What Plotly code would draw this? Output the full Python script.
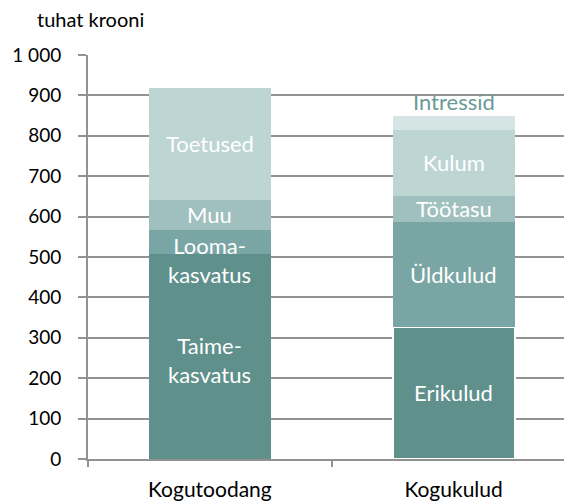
import plotly.graph_objects as go

categories = ["Kogutoodang", "Kogukulud"]

prod_labels = ["Taime-<br>kasvatus", "Looma-<br>kasvatus", "Muu", "Toetused"]
prod_values = [507, 59, 76, 276]

cost_labels = ["Erikulud", "Üldkulud", "Töötasu", "Kulum", "Intressid"]
cost_values = [327, 259, 66, 163, 34]

y_tickvals = [0, 100, 200, 300, 400, 500, 600, 700, 800, 900, 1000]
y_ticktext = ["0", "100", "200", "300", "400", "500", "600", "700", "800", "900", "1 000"]

unit_label = "tuhat krooni"

# styles
prod_colors = ["#5f908c", "#79a6a4", "#9fc0be", "#bdd5d3"]
cost_colors = ["#5f908c", "#79a6a4", "#9fc0be", "#bdd5d3", "#d5e5e4"]
prod_label_shift = [-3, -18, 0, 0]
cost_label_shift = [0, 0, 0, 0, 0]
FONT = "Lato, Calibri, sans-serif"
GRID = "#929292"
AX_SIZE = 19
CAT_SIZE = 21
TITLE_SIZE = 20
LBL_SIZE = 22

fig = go.Figure()
annotations = []

def add_stack(cat, labels, values, colors, shifts, white_edge_first=False):
    base = 0
    for i, (lab, val, col) in enumerate(zip(labels, values, colors)):
        line = dict(width=0)
        if white_edge_first and i == 0:
            line = dict(width=2, color="white")
        fig.add_trace(go.Bar(
            x=[cat], y=[val], marker=dict(color=col, line=line),
            width=0.5, showlegend=False, hoverinfo="skip",
        ))
        mid = base + val / 2
        base += val
        annotations.append((cat, lab, mid, shifts[i]))
    return base

add_stack(categories[0], prod_labels, prod_values, prod_colors, prod_label_shift)
add_stack(categories[1], cost_labels[:-1], cost_values[:-1], cost_colors[:-1], cost_label_shift, white_edge_first=True)
top_before = sum(cost_values[:-1])
fig.add_trace(go.Bar(x=[categories[1]], y=[cost_values[-1]], marker=dict(color=cost_colors[-1], line=dict(width=0)),
                     width=0.5, showlegend=False, hoverinfo="skip"))

ann = []
for cat, lab, mid, shift in annotations:
    ann.append(dict(x=cat, y=mid, xref="x", yref="y", text=lab, showarrow=False,
                    yshift=shift, font=dict(family=FONT, size=LBL_SIZE, color="white"),
                    align="center"))
ann.append(dict(x=categories[1], y=top_before + cost_values[-1], xref="x", yref="y",
                text=cost_labels[-1], showarrow=False, yanchor="bottom", yshift=-1,
                font=dict(family=FONT, size=LBL_SIZE, color="#6a9a96")))

fig.update_layout(
    barmode="stack",
    width=564, height=501,
    margin=dict(l=88, r=0, t=55, b=40),
    plot_bgcolor="white", paper_bgcolor="white",
    font=dict(family=FONT, size=AX_SIZE, color="black"),
    title=dict(text=unit_label, x=37/564, xanchor="left", y=1 - 20/501, yanchor="middle",
               font=dict(family=FONT, size=TITLE_SIZE, color="black")),
    annotations=ann,
    bargap=0.5,
)
fig.update_yaxes(range=[0, 1000], tickvals=y_tickvals, ticktext=y_ticktext,
                 showgrid=True, gridcolor=GRID, gridwidth=2,
                 showline=True, linecolor=GRID, linewidth=2,
                 ticks="outside", ticklen=8, tickcolor=GRID, tickwidth=2,
                 ticklabelstandoff=13, zeroline=False,
                 tickfont=dict(family=FONT, size=AX_SIZE, color="black"))
fig.update_xaxes(range=[-0.5, 1.453], tickson="boundaries", ticks="outside", ticklen=6,
                 tickcolor=GRID, tickwidth=2, showline=True, linecolor=GRID, linewidth=2,
                 showgrid=False, ticklabelstandoff=11,
                 tickfont=dict(family=FONT, size=CAT_SIZE, color="black"))

fig.write_html("out.html", config={"displayModeBar": False},
               post_script="document.body.style.margin='0';document.body.style.overflow='hidden';")
